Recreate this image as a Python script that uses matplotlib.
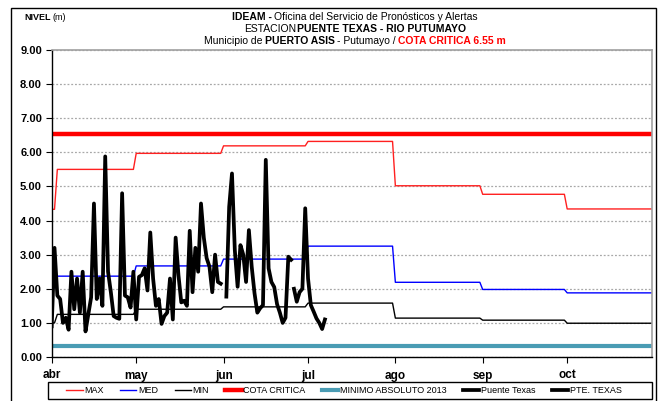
import numpy as np
import matplotlib
matplotlib.use("Agg")
import matplotlib.pyplot as plt
from matplotlib.patches import Rectangle

plt.rcParams["font.family"] = ["Liberation Sans", "DejaVu Sans"]

# --- data -------------------------------------------------------------------
MONTH_LABELS = ["abr", "may", "jun", "jul", "ago", "sep", "oct"]
MONTH_STARTS = np.array(["2014-04-01", "2014-05-01", "2014-06-01", "2014-07-01",
                         "2014-08-01", "2014-09-01", "2014-10-01"], dtype="datetime64[D]")
AXIS_END = np.datetime64("2014-10-31")

# monthly reference levels (m), value before the first month shown separately
MAX_START, MED_START, MIN_START = 4.33, 2.02, 1.00
MAX_LEVELS = [5.50, 5.97, 6.19, 6.32, 5.02, 4.77, 4.34]
MED_LEVELS = [2.37, 2.67, 2.87, 3.25, 2.19, 1.98, 1.88]
MIN_LEVELS = [1.25, 1.40, 1.47, 1.58, 1.14, 1.08, 0.99]
COTA_CRITICA = 6.55
MINIMO_2013 = 0.32

# daily readings from 1 April (nan = no reading)
PUENTE_TEXAS_START = np.datetime64("2014-04-01")
PUENTE_TEXAS = [0.90, 3.20, 1.80, 1.70, 1.00, 1.15, 0.80, 2.50, 1.40, 2.30,
                1.30, 2.50, 0.75, 1.25, 1.75, 4.50, 1.70, 2.30, 1.50, 5.88,
                2.50, 1.90, 1.20, 1.15, 1.12, 4.80, 1.80, 1.75, 1.45, 2.50,
                1.10, 2.35, 2.40, 2.60, 1.95, 3.65, 2.30, 1.50, 1.70, 0.97,
                1.20, 1.30, 2.30, 1.10, 3.50, 2.40, 1.60, 1.65, 1.50, 3.70,
                1.90, 3.20, 2.50, 4.50, 3.50, 2.90, 2.65, 1.90, 3.00, 2.20,
                2.15, np.nan, 1.77, 4.40, 5.38, 3.14, 2.06, 3.28, 3.00, 2.20,
                3.72, 2.65, 1.87, 1.30, 1.43, 1.52, 5.78, 2.60, 2.20, 2.05,
                1.55, 1.30, 1.00, 1.15, 2.94, 2.85]
PTE_TEXAS_START = np.datetime64("2014-06-26")
PTE_TEXAS = [2.00, 1.62, 1.90, 2.00, 4.36, 2.30, 1.52, 1.33, 1.13, 1.00, 0.82, 1.10]

LEGEND_LABELS = ["MAX", "MED", "MIN", "COTA CRITICA", "MINIMO ABSOLUTO 2013",
                 "Puente Texas", "PTE. TEXAS"]


def monthly_steps(start_value, levels):
    """Level held through each month, one-day ramp into the next month."""
    x = [MONTH_STARTS[0], MONTH_STARTS[0] + 1]
    y = [start_value, start_value]
    ends = list(MONTH_STARTS[1:] - 1) + [AXIS_END]
    for i, (lvl, end) in enumerate(zip(levels, ends)):
        start = MONTH_STARTS[i] + (2 if i == 0 else 0)
        x += [start, end]
        y += [lvl, lvl]
    return np.array(x), np.array(y)


def daily(start, values):
    return start + np.arange(len(values)), np.array(values, dtype=float)


W, H = 663, 401


def fx(px):
    return px / W


def fy(py):
    return 1 - py / H


def rich_line(fig, y_px, parts, size, x_px, gap_px=3.0, align="center"):
    r = fig.canvas.get_renderer()
    texts = [fig.text(0, fy(y_px), s, fontsize=size, fontweight=w, color=c, va="center")
             for s, w, c in parts]
    widths = [t.get_window_extent(r).width for t in texts]
    total = sum(widths) + gap_px * (len(parts) - 1)
    x = x_px - total / 2 if align == "center" else x_px
    for t, w in zip(texts, widths):
        t.set_x(fx(x))
        x += w + gap_px


def main():
    fig = plt.figure(figsize=(W / 100, H / 100), dpi=100)
    ax = fig.add_axes([fx(51.7), fy(357), fx(651.7 - 51.7), (357 - 50) / H])

    x, y = monthly_steps(MAX_START, MAX_LEVELS)
    ax.plot(x, y, color="#ff2020", lw=1.0, label=LEGEND_LABELS[0])
    x, y = monthly_steps(MED_START, MED_LEVELS)
    ax.plot(x, y, color="#0000ff", lw=1.0, label=LEGEND_LABELS[1])
    x, y = monthly_steps(MIN_START, MIN_LEVELS)
    ax.plot(x, y, color="black", lw=1.0, label=LEGEND_LABELS[2])
    ax.plot([MONTH_STARTS[0], AXIS_END], [COTA_CRITICA] * 2, color="#ff0000", lw=3.2,
            label=LEGEND_LABELS[3])
    ax.plot([MONTH_STARTS[0], AXIS_END], [MINIMO_2013] * 2, color="#4a9cb4", lw=3.0,
            label=LEGEND_LABELS[4])
    x, y = daily(PUENTE_TEXAS_START, PUENTE_TEXAS)
    ax.plot(x, y, color="black", lw=2.7, label=LEGEND_LABELS[5])
    x, y = daily(PTE_TEXAS_START, PTE_TEXAS)
    ax.plot(x, y, color="black", lw=2.7, label=LEGEND_LABELS[6])

    ax.set_xlim(MONTH_STARTS[0], AXIS_END)
    ax.set_ylim(0, 9)
    ax.set_yticks(np.arange(0, 10, 1))
    ax.set_yticklabels([f"{v:.2f}" for v in range(10)], fontweight="bold", fontsize=8)
    ax.set_xticks(MONTH_STARTS)
    ax.set_xticklabels(MONTH_LABELS, fontweight="bold", fontsize=8.5)
    ax.tick_params(axis="both", direction="out", length=4, width=0.8, pad=3)
    ax.tick_params(axis="x", length=4, pad=5)
    ax.grid(axis="y", color="#a8a8a8", ls=(0, (1.5, 1.5)), lw=0.9)
    ax.set_axisbelow(True)
    for side in ("top", "right"):
        ax.spines[side].set_color("#a0a0a0")
        ax.spines[side].set_linewidth(1.2)
    for side in ("left", "bottom"):
        ax.spines[side].set_color("black")
        ax.spines[side].set_linewidth(1.0)

    # outer chart border and legend box
    fig.patches.append(Rectangle((fx(11), -0.02), fx(656 - 11), fy(8) + 0.02,
                                 transform=fig.transFigure, fill=False,
                                 edgecolor="black", lw=1.0))
    fig.patches.append(Rectangle((fx(47.7), fy(399)), fx(652 - 47.7), (399 - 382) / H,
                                 transform=fig.transFigure, fill=False,
                                 edgecolor="black", lw=1.0))

    # titles
    rich_line(fig, 17, [("IDEAM -", "bold", "black"),
                        ("Oficina del Servicio de Pronósticos y Alertas", "normal", "black")],
              7.5, 355, gap_px=2.5)
    rich_line(fig, 29, [("ESTACION", "normal", "black"),
                        ("PUENTE TEXAS - RIO PUTUMAYO", "bold", "black")],
              7.5, 355, gap_px=1.5)
    rich_line(fig, 41, [("Municipio de", "normal", "black"),
                        ("PUERTO ASIS", "bold", "black"),
                        ("- Putumayo /", "normal", "black"),
                        ("COTA CRITICA 6.55 m", "bold", "#ff0000")],
              7.5, 355, gap_px=2.5)
    rich_line(fig, 18, [("NIVEL", "bold", "black"), ("(m)", "normal", "black")],
              6.5, 24, gap_px=2.0, align="left")

    handles, labels = ax.get_legend_handles_labels()
    fig.legend(handles, labels, loc="center", ncol=7,
               bbox_to_anchor=(fx(344), fy(390.5)),
               fontsize=6.5, handlelength=1.8, handletextpad=0.2, columnspacing=1.8,
               borderpad=0.0, frameon=False, borderaxespad=0)

    fig.savefig("out.png", dpi=100, facecolor="white")


if __name__ == "__main__":
    main()
